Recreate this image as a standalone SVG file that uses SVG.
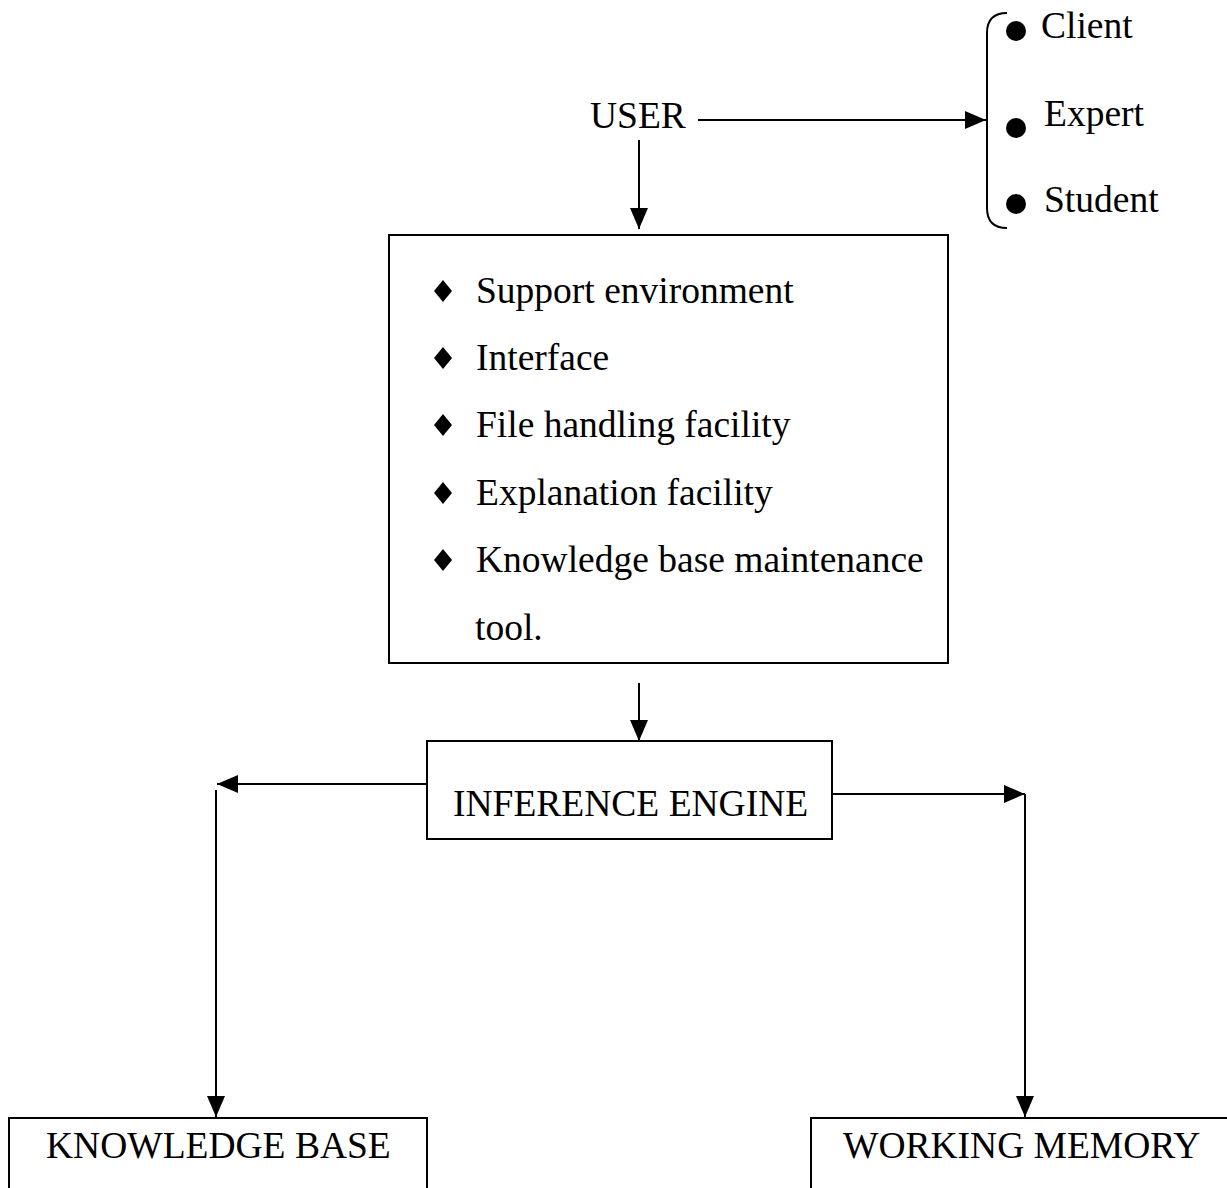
<svg xmlns="http://www.w3.org/2000/svg" width="1227" height="1188" viewBox="0 0 1227 1188">
  <style>
    text { font-family: "Liberation Serif", "Times New Roman", serif; font-size: 37.5px; fill: #000; }
    .box { fill: #fff; stroke: #000; stroke-width: 2; }
    .conn { fill: none; stroke: #000; stroke-width: 2; }
    .dia { fill: #000; }
  </style>
  <defs>
    <marker id="arr" markerUnits="userSpaceOnUse" markerWidth="22" markerHeight="20" refX="21" refY="10" orient="auto">
      <path d="M0,1 L21,10 L0,19 Z" fill="#000"/>
    </marker>
  </defs>
  <rect width="1227" height="1188" fill="#fff"/>

  <g id="user">
    <text x="590" y="128">USER</text>
  </g>

  <g id="user-types">
    <path class="conn" d="M1007,13 Q987,13 987,33 L987,208 Q987,228 1007,228"/>
    <circle cx="1016" cy="31" r="10"/>
    <circle cx="1016" cy="128" r="10"/>
    <circle cx="1016" cy="204" r="10"/>
    <text x="1041" y="38">Client</text>
    <text x="1044" y="126">Expert</text>
    <text x="1044" y="212">Student</text>
  </g>

  <g id="support-box">
    <rect class="box" x="389" y="235" width="559" height="428"/>
    <path class="dia" d="M443,280 L452,291 L443,302 L434,291 Z"/>
    <path class="dia" d="M443,347 L452,358 L443,369 L434,358 Z"/>
    <path class="dia" d="M443,414 L452,425 L443,436 L434,425 Z"/>
    <path class="dia" d="M443,482 L452,493 L443,504 L434,493 Z"/>
    <path class="dia" d="M443,549 L452,560 L443,571 L434,560 Z"/>
    <text x="476" y="303">Support environment</text>
    <text x="476" y="370">Interface</text>
    <text x="476" y="437">File handling facility</text>
    <text x="476" y="505">Explanation facility</text>
    <text x="476" y="572">Knowledge base maintenance</text>
    <text x="475" y="640">tool.</text>
  </g>

  <g id="inference-engine">
    <rect class="box" x="427" y="741" width="405" height="98"/>
    <text x="453" y="816">INFERENCE ENGINE</text>
  </g>

  <g id="knowledge-base">
    <rect class="box" x="9" y="1118" width="418" height="100"/>
    <text x="46" y="1158">KNOWLEDGE BASE</text>
  </g>

  <g id="working-memory">
    <rect class="box" x="811" y="1118" width="430" height="100"/>
    <text x="843" y="1158">WORKING MEMORY</text>
  </g>

  <g id="connectors">
    <line class="conn" x1="698" y1="120" x2="986" y2="120" marker-end="url(#arr)"/>
    <line class="conn" x1="639" y1="140" x2="639" y2="229" marker-end="url(#arr)"/>
    <line class="conn" x1="639" y1="683" x2="639" y2="741" marker-end="url(#arr)"/>
    <line class="conn" x1="427" y1="784" x2="217" y2="784" marker-end="url(#arr)"/>
    <line class="conn" x1="216" y1="790" x2="216" y2="1117" marker-end="url(#arr)"/>
    <line class="conn" x1="832" y1="794" x2="1025" y2="794" marker-end="url(#arr)"/>
    <line class="conn" x1="1025" y1="794" x2="1025" y2="1117" marker-end="url(#arr)"/>
  </g>
</svg>
